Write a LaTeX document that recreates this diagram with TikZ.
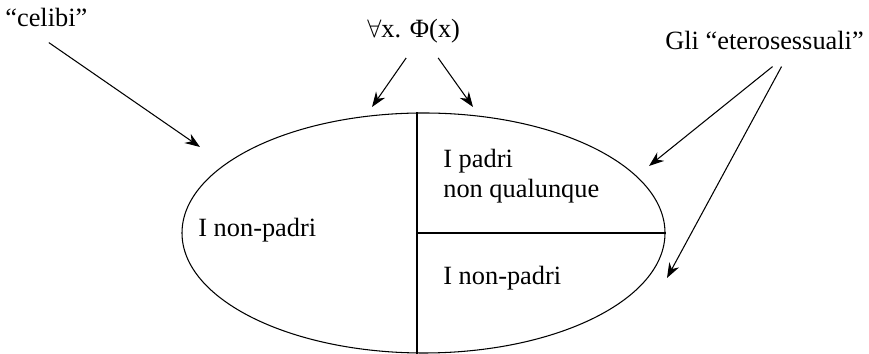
\documentclass[tikz,border=0pt]{standalone}
\usepackage{amsmath,amssymb}
\usepackage{fontspec}
\setmainfont{Liberation Serif}
\usepackage{tikz}
\usetikzlibrary{shapes.geometric, arrows.meta, positioning}
\tikzstyle{arrow} = [semithick,-{Stealth[length=0.30cm,width=0.22cm]}]

\begin{document}
\begin{tikzpicture}[font=\fontsize{15}{16}\selectfont]
    \tikzstyle{lbl} = [inner sep=0pt, anchor=base west]
    \tikzstyle{region} = [draw, ellipse, semithick, minimum width=9.66cm, minimum height=4.8cm, inner sep=0pt]
    \useasboundingbox (0,0) rectangle (17.38,7.08);

    \node[region] (pop) at (8.47,2.42) {};
    \draw[semithick] ([xshift=-0.13cm]pop.north) -- ([xshift=-0.13cm]pop.south);
    \draw[semithick] ([xshift=-0.13cm]pop.center) -- (pop.east);

    \node[lbl] (left) at (3.96,2.34) {I non-padri};
    \node[inner sep=0pt, anchor=north west, align=left] (padri) at (8.86,4.10) {I padri\\[1pt]non qualunque};
    \node[lbl] (nonpadri) at (8.86,1.38) {I non-padri};

    \node[lbl] (celibi) at (0.10,6.54) {“celibi”};
    \node[lbl] (forall) at (7.34,6.32) {$\forall$x. Φ(x)};
    \node[lbl] (etero) at (13.30,6.08) {Gli “eterosessuali”};

    \coordinate (tc) at (4.00,4.14);
    \coordinate (tf1) at (7.44,4.94);
    \coordinate (tf2) at (9.46,4.94);
    \coordinate (te1) at (12.98,3.76);
    \coordinate (te2) at (13.34,1.52);

    \draw[arrow] ([shift={(0.05,-0.30)}]celibi.south) -- (tc);
    \draw[arrow] ([shift={(-0.15,-0.28)}]forall.south) -- (tf1);
    \draw[arrow] ([shift={(0.49,-0.28)}]forall.south) -- (tf2);
    \draw[arrow] ([shift={(0.16,-0.32)}]etero.south) -- (te1);
    \draw[arrow] ([shift={(0.34,-0.32)}]etero.south) -- (te2);
\end{tikzpicture}
\end{document}
